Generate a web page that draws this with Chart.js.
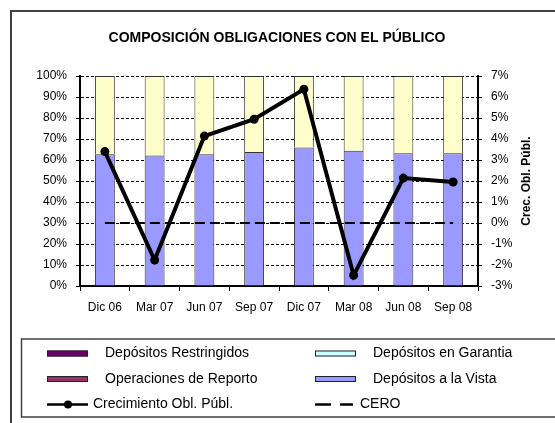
<!DOCTYPE html>
<html>
<head>
<meta charset="utf-8">
<script src="https://cdn.jsdelivr.net/npm/chart.js@4/dist/chart.umd.min.js"></script>
<style>
html,body{margin:0;padding:0;background:#fff;}
#c{display:block;}
</style>
</head>
<body>
<canvas id="c" width="555" height="423"></canvas>
<script>
// ---- data ----
const categories = ['Dic 06','Mar 07','Jun 07','Sep 07','Dic 07','Mar 08','Jun 08','Sep 08'];
const depositosVista = [62.7, 62.2, 62.7, 63.8, 66.0, 64.4, 63.2, 63.2];
const depositosPlazo = [37.3, 37.8, 37.3, 36.2, 34.0, 35.6, 36.8, 36.8];
const depositosRestringidos = [0, 0, 0, 0, 0, 0, 0, 0];
const depositosGarantia = [0, 0, 0, 0, 0, 0, 0, 0];
const operacionesReporto = [0, 0, 0, 0, 0, 0, 0, 0];
const crecimiento = [3.40, -1.76, 4.14, 4.94, 6.37, -2.49, 2.14, 1.95];
const cero = [0, 0, 0, 0, 0, 0, 0, 0];
const leftTicks = [0,10,20,30,40,50,60,70,80,90,100];
const rightTicks = [-3,-2,-1,0,1,2,3,4,5,6,7];
const titleText = 'COMPOSICIÓN OBLIGACIONES CON EL PÚBLICO';
const rightTitle = 'Crec. Obl. Públ.';

const FONT = "'Liberation Sans', Arial, sans-serif";

const datasets = [
  {type:'bar', label:'Depósitos a la Vista', data:depositosVista, backgroundColor:'#9999FF', borderColor:'#333', borderWidth:1, yAxisID:'y', stack:'s', order:3},
  {type:'bar', label:'Depósitos a Plazo', data:depositosPlazo, backgroundColor:'#FFFFCC', borderColor:'#333', borderWidth:1, yAxisID:'y', stack:'s', order:3, hideLegend:true},
  {type:'bar', label:'Depósitos Restringidos', data:depositosRestringidos, backgroundColor:'#660066', borderColor:'#333', borderWidth:0, yAxisID:'y', stack:'s', order:3},
  {type:'bar', label:'Depósitos en Garantia', data:depositosGarantia, backgroundColor:'#CCFFFF', borderColor:'#333', borderWidth:0, yAxisID:'y', stack:'s', order:3},
  {type:'bar', label:'Operaciones de Reporto', data:operacionesReporto, backgroundColor:'#993366', borderColor:'#333', borderWidth:0, yAxisID:'y', stack:'s', order:3},
  {type:'line', label:'Crecimiento Obl. Públ.', data:crecimiento, borderColor:'#000', backgroundColor:'#000', borderWidth:4, pointRadius:4.5, pointBackgroundColor:'#000', pointBorderWidth:0, tension:0, yAxisID:'y1', order:0},
  {type:'line', label:'CERO', data:cero, borderColor:'#000', borderWidth:2, borderDash:[10,5], pointRadius:0, tension:0, yAxisID:'y1', order:1}
];

// legend layout: [datasetLabel, column, row]
const legendLayout = [
  ['Depósitos Restringidos',0,0], ['Depósitos en Garantia',1,0],
  ['Operaciones de Reporto',0,1], ['Depósitos a la Vista',1,1],
  ['Crecimiento Obl. Públ.',0,2], ['CERO',1,2]
];

const decor = {
  id:'decor',
  beforeDraw(chart){
    const ctx = chart.ctx;
    ctx.save();
    ctx.fillStyle = '#fff';
    ctx.fillRect(0,0,chart.width,chart.height);
    ctx.restore();
  },
  afterDraw(chart){
    const ctx = chart.ctx;
    const area = chart.chartArea;
    ctx.save();
    // outer frame
    ctx.strokeStyle = '#404040';
    ctx.lineWidth = 2;
    ctx.strokeRect(11, 11, 600, 500);
    // title
    ctx.fillStyle = '#000';
    ctx.font = 'bold 14px ' + FONT;
    ctx.textAlign = 'center';
    ctx.textBaseline = 'middle';
    ctx.fillText(titleText, 277, 38);
    // right axis title
    ctx.save();
    ctx.translate(527, (area.top + area.bottom)/2);
    ctx.rotate(-Math.PI/2);
    ctx.font = 'bold 12px ' + FONT;
    ctx.textAlign = 'center';
    ctx.textBaseline = 'middle';
    ctx.fillText(rightTitle, 0, 0);
    ctx.restore();
    // legend box
    ctx.strokeStyle = '#404040';
    ctx.lineWidth = 1.5;
    ctx.strokeRect(21.5, 339, 600, 78);
    const colX = [47, 315];
    const rowY = [353.5, 379, 404.5];
    ctx.font = '14px ' + FONT;
    ctx.textAlign = 'left';
    ctx.textBaseline = 'middle';
    legendLayout.forEach(([lbl, c, r]) => {
      const ds = chart.data.datasets.find(d => d.label === lbl);
      const x = colX[c], y = rowY[r];
      if (ds.type === 'bar') {
        ctx.fillStyle = ds.backgroundColor;
        ctx.fillRect(x, y-3, 41, 6);
        ctx.strokeStyle = '#222';
        ctx.lineWidth = 1;
        ctx.strokeRect(x+0.5, y-2.5, 40, 5);
        ctx.fillStyle = '#000';
        ctx.fillText(lbl, x + 58, y);
      } else {
        ctx.strokeStyle = '#000';
        ctx.lineWidth = 2.5;
        if (ds.borderDash) {
          ctx.beginPath();
          ctx.moveTo(x, y); ctx.lineTo(x+16, y);
          ctx.moveTo(x+25, y); ctx.lineTo(x+38, y);
          ctx.stroke();
          ctx.fillStyle = '#000';
          ctx.fillText(lbl, x + 45, y);
        } else {
          ctx.beginPath();
          ctx.moveTo(x, y); ctx.lineTo(x+41, y);
          ctx.stroke();
          ctx.beginPath();
          ctx.arc(x+21, y, 4, 0, Math.PI*2);
          ctx.fillStyle = '#000';
          ctx.fill();
          ctx.fillText(lbl, x + 46, y);
        }
      }
    });
    ctx.restore();
  }
};

new Chart(document.getElementById('c'), {
  data: { labels: categories, datasets: datasets },
  plugins: [decor],
  options: {
    responsive: false,
    animation: false,
    layout: { padding: { top: 76, bottom: 107, left: 0, right: 0 } },
    plugins: { legend: { display: false }, title: { display: false }, tooltip: { enabled: false } },
    datasets: { bar: { categoryPercentage: 1.0, barPercentage: 0.4 } },
    scales: {
      x: {
        stacked: true,
        afterFit(s){ s.height = 30; },
        grid: { offset: true, drawOnChartArea: false, drawTicks: true, tickLength: 5, color: '#000', tickColor: '#000', lineWidth: 1 },
        border: { display: true, color: '#000', width: 2 },
        ticks: { color: '#000', font: { family: FONT, size: 12 }, padding: 9, maxRotation: 0, autoSkip: false }
      },
      y: {
        stacked: true,
        position: 'left',
        min: 0, max: 100,
        afterFit(s){ s.width = 80; },
        afterBuildTicks(s){ s.ticks = leftTicks.map(v => ({ value: v })); },
        grid: { color: '#000', lineWidth: 1, tickLength: 4, tickColor: '#000' },
        border: { display: true, color: '#000', width: 2, dash: [3, 2] },
        ticks: { color: '#000', font: { family: FONT, size: 12 }, padding: 9, callback: v => v + '%' }
      },
      y1: {
        position: 'right',
        min: -3, max: 7,
        afterFit(s){ s.width = 77; },
        afterBuildTicks(s){ s.ticks = rightTicks.map(v => ({ value: v })); },
        grid: { drawOnChartArea: false, tickLength: 4, tickColor: '#000', color: '#000' },
        border: { display: true, color: '#000', width: 2 },
        ticks: { color: '#000', font: { family: FONT, size: 12 }, padding: 9, callback: v => v + '%' }
      }
    }
  }
});
</script>
</body>
</html>
